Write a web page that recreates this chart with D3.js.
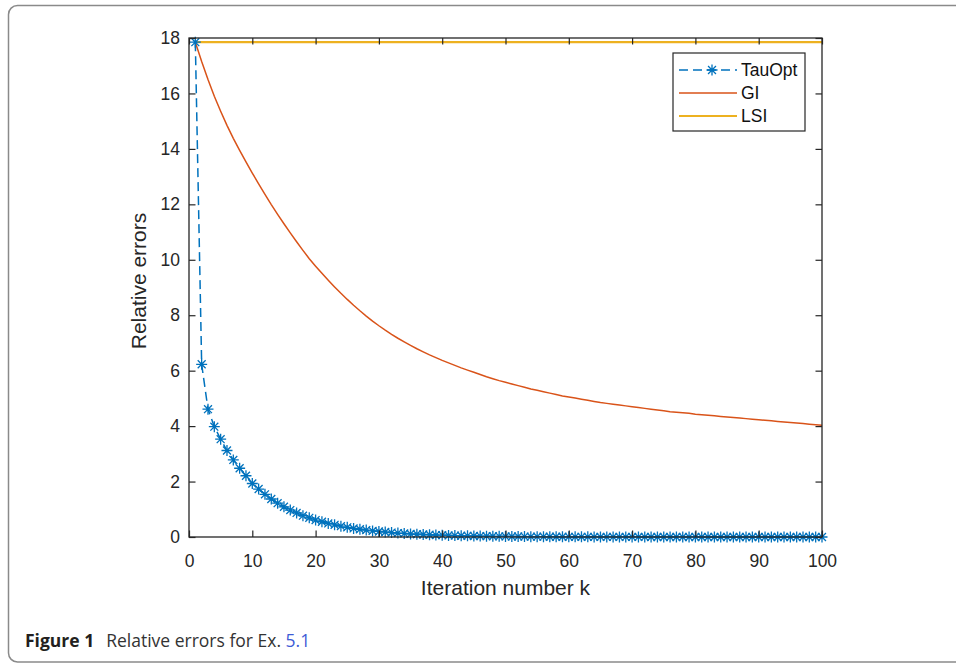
<!DOCTYPE html>
<html>
<head>
<meta charset="utf-8">
<script src="https://cdn.jsdelivr.net/npm/d3@7"></script>
<style>
  body { margin: 0; background: #fff; }
  svg { display: block; }
</style>
</head>
<body>
<div id="chart"></div>
<script>
// Values
const xTicks = [0, 10, 20, 30, 40, 50, 60, 70, 80, 90, 100];
const yTicks = [0, 2, 4, 6, 8, 10, 12, 14, 16, 18];
const seriesNames = ['TauOpt', 'GI', 'LSI'];
const seriesColors = ['#0072BD', '#D95319', '#EDB120'];

// TauOpt, iterations 1..100
const tauOpt = [
  17.85, 6.23, 4.61, 3.98, 3.53, 3.12, 2.78, 2.48, 2.21, 1.93,
  1.73, 1.54, 1.37, 1.22, 1.09, 0.97, 0.87, 0.77, 0.69, 0.61,
  0.55, 0.49, 0.44, 0.39, 0.35, 0.31, 0.28, 0.25, 0.22, 0.20,
  0.18, 0.16, 0.14, 0.13, 0.11, 0.10, 0.09, 0.08, 0.07, 0.065,
  0.058, 0.052, 0.046, 0.041, 0.037, 0.033, 0.029, 0.026, 0.023, 0.021,
  0.019, 0.017, 0.015, 0.013, 0.012, 0.011, 0.010, 0.009, 0.008, 0.007,
  0.006, 0.006, 0.005, 0.004, 0.004, 0.003, 0.003, 0.003, 0.002, 0.002,
  0.002, 0.002, 0.001, 0.001, 0.001, 0.001, 0.001, 0.001, 0.001, 0.001,
  0, 0, 0, 0, 0, 0, 0, 0, 0, 0,
  0, 0, 0, 0, 0, 0, 0, 0, 0, 0
];

// GI, iterations 1..100
const gi = [
  17.85, 17.15, 16.50, 15.90, 15.36, 14.85, 14.38, 13.95, 13.53, 13.13,
  12.74, 12.36, 11.99, 11.64, 11.30, 10.97, 10.65, 10.34, 10.04, 9.77,
  9.51, 9.26, 9.02, 8.79, 8.57, 8.36, 8.16, 7.97, 7.79, 7.62,
  7.46, 7.31, 7.17, 7.04, 6.91, 6.79, 6.68, 6.57, 6.47, 6.37,
  6.28, 6.19, 6.10, 6.02, 5.94, 5.86, 5.78, 5.71, 5.64, 5.58,
  5.52, 5.46, 5.40, 5.34, 5.29, 5.24, 5.19, 5.14, 5.09, 5.05,
  5.01, 4.97, 4.93, 4.89, 4.85, 4.82, 4.79, 4.76, 4.73, 4.70,
  4.67, 4.64, 4.61, 4.58, 4.55, 4.52, 4.50, 4.48, 4.46, 4.43,
  4.41, 4.39, 4.37, 4.35, 4.33, 4.31, 4.29, 4.27, 4.25, 4.23,
  4.21, 4.19, 4.17, 4.15, 4.13, 4.11, 4.09, 4.07, 4.05, 4.03
];

// LSI stays flat
const lsiK = [1, 100];
const lsi = [17.85, 17.85];

const W = 956, H = 664;
const axisColor = '#262626';
const tickFont = '"Liberation Sans", Arial, sans-serif';

const svg = d3.select('#chart').append('svg')
  .attr('width', W)
  .attr('height', H);

// Figure frame
svg.append('rect')
  .attr('x', 8.5).attr('y', 5.5)
  .attr('width', 1000).attr('height', 656.5)
  .attr('rx', 9)
  .attr('fill', 'none')
  .attr('stroke', '#8a8a8a')
  .attr('stroke-width', 1.5);

const x = d3.scaleLinear().domain([0, 100]).range([189, 822]);
const y = d3.scaleLinear().domain([0, 18]).range([537, 38]);

const tauData = tauOpt.map((v, i) => [i + 1, v]);
const giData = gi.map((v, i) => [i + 1, v]);
const lsiData = lsi.map((v, i) => [lsiK[i], v]);

const line = d3.line().x(d => x(d[0])).y(d => y(d[1]));

const dataG = svg.append('g');

dataG.append('path')
  .datum(lsiData)
  .attr('d', line)
  .attr('fill', 'none')
  .attr('stroke', seriesColors[2])
  .attr('stroke-width', 2.2);

dataG.append('path')
  .datum(giData)
  .attr('d', line)
  .attr('fill', 'none')
  .attr('stroke', seriesColors[1])
  .attr('stroke-width', 1.5);

dataG.append('path')
  .datum(tauData)
  .attr('d', line)
  .attr('fill', 'none')
  .attr('stroke', seriesColors[0])
  .attr('stroke-width', 1.5)
  .attr('stroke-dasharray', '9,5');

// MATLAB '*' marker: plus and cross
const starPath = r => {
  const a = r * 0.72;
  return `M${-r},0L${r},0M0,${-r}L0,${r}M${-a},${-a}L${a},${a}M${-a},${a}L${a},${-a}`;
};

dataG.selectAll('path.star')
  .data(tauData)
  .join('path')
  .attr('class', 'star')
  .attr('transform', d => `translate(${x(d[0])},${y(d[1])})`)
  .attr('d', starPath(5.5))
  .attr('fill', 'none')
  .attr('stroke', seriesColors[0])
  .attr('stroke-width', 1.3);

// Axes box with inward ticks on all sides
const tickLen = 6.5;
const axes = svg.append('g');

axes.append('rect')
  .attr('x', x(0)).attr('y', y(18))
  .attr('width', x(100) - x(0)).attr('height', y(0) - y(18))
  .attr('fill', 'none')
  .attr('stroke', axisColor)
  .attr('stroke-width', 1.3);

const bottomAxis = axes.append('g')
  .attr('transform', `translate(0,${y(0)})`)
  .call(d3.axisBottom(x).tickValues(xTicks).tickSize(-tickLen).tickPadding(18));
const topAxis = axes.append('g')
  .attr('transform', `translate(0,${y(18)})`)
  .call(d3.axisTop(x).tickValues(xTicks).tickSize(-tickLen).tickFormat(''));
const leftAxis = axes.append('g')
  .attr('transform', `translate(${x(0)},0)`)
  .call(d3.axisLeft(y).tickValues(yTicks).tickSize(-tickLen).tickPadding(9));
const rightAxis = axes.append('g')
  .attr('transform', `translate(${x(100)},0)`)
  .call(d3.axisRight(y).tickValues(yTicks).tickSize(-tickLen).tickFormat(''));

[bottomAxis, topAxis, leftAxis, rightAxis].forEach(g => {
  g.select('.domain').remove();
  g.selectAll('.tick line').attr('stroke', axisColor).attr('stroke-width', 1.2);
  g.selectAll('.tick text')
    .attr('fill', axisColor)
    .style('font-family', tickFont)
    .style('font-size', '17.5px');
});

// Axis labels
svg.append('text')
  .attr('x', (x(0) + x(100)) / 2)
  .attr('y', 595)
  .attr('text-anchor', 'middle')
  .attr('fill', axisColor)
  .style('font-family', tickFont)
  .style('font-size', '21px')
  .text('Iteration number k');

svg.append('text')
  .attr('transform', 'translate(146,281) rotate(-90)')
  .attr('text-anchor', 'middle')
  .attr('fill', axisColor)
  .style('font-family', tickFont)
  .style('font-size', '21px')
  .text('Relative errors');

// Legend
const legend = svg.append('g');
legend.append('rect')
  .attr('x', 673).attr('y', 53)
  .attr('width', 132).attr('height', 78)
  .attr('fill', '#fff')
  .attr('stroke', axisColor)
  .attr('stroke-width', 1.2);

const rowY = [70, 93, 116];
seriesNames.forEach((name, i) => {
  const row = legend.append('g').attr('transform', `translate(0,${rowY[i]})`);
  const ln = row.append('line')
    .attr('x1', 679).attr('x2', 737)
    .attr('y1', 0).attr('y2', 0)
    .attr('stroke', seriesColors[i])
    .attr('stroke-width', i === 2 ? 2.2 : 1.5);
  if (i === 0) {
    ln.attr('stroke-dasharray', '9,5');
    row.append('path')
      .attr('transform', 'translate(712,0)')
      .attr('d', starPath(5.5))
      .attr('fill', 'none')
      .attr('stroke', seriesColors[0])
      .attr('stroke-width', 1.3);
  }
  row.append('text')
    .attr('x', 741)
    .attr('y', 6)
    .attr('fill', '#111')
    .style('font-family', tickFont)
    .style('font-size', '17.5px')
    .text(name);
});

// Caption
const cap = svg.append('text')
  .attr('x', 25)
  .attr('y', 647)
  .style('font-family', '"Open Sans", "Noto Sans", sans-serif')
  .style('font-size', '17.5px')
  .attr('fill', '#231f20');
cap.append('tspan').style('font-weight', 'bold').text('Figure 1');
cap.append('tspan').attr('dx', 12).attr('fill', '#333').text('Relative errors for Ex. ');
cap.append('tspan').attr('fill', '#3d5bd6').text('5.1');
</script>
</body>
</html>
